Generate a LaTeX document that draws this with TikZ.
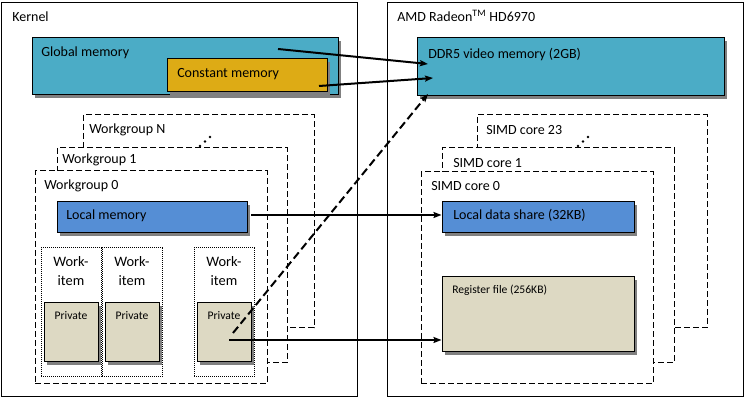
\documentclass[tikz,border=0pt]{standalone}
\usepackage{fontspec}
\setmainfont{Carlito}
\usetikzlibrary{arrows.meta}
\usetikzlibrary{shadows, fit, positioning}
\definecolor{globalmem}{RGB}{75,172,198}
\definecolor{constmem}{RGB}{221,171,21}
\definecolor{localmem}{RGB}{85,142,213}
\definecolor{privmem}{RGB}{221,217,195}

\begin{document}
\begin{tikzpicture}[x=0.75pt, y=-0.75pt,
    box/.style={draw, line width=0.75pt, inner sep=0pt},
    mem/.style={box, drop shadow={shadow xshift=2.25pt, shadow yshift=-2.25pt, fill=black!50, opacity=1}},
    grp/.style={box, fill=white, dash pattern=on 4.5pt off 2.25pt},
    wibox/.style={draw, inner sep=0pt, line width=0.75pt, dash pattern=on 0.75pt off 0.75pt},
    txt/.style={anchor=base west, inner sep=0pt, font=\fontsize{10.5}{12.6}\selectfont},
    wilbl/.style={anchor=north, inner sep=0pt, align=center, font=\fontsize{10.8}{14.25}\selectfont},
    small/.style={anchor=base, inner sep=0pt, font=\fontsize{8.7}{10}\selectfont},
    link/.style={line width=1.5pt, -{Stealth[length=6pt, width=4.5pt, inset=1pt]}}]

    \useasboundingbox (0,0) rectangle (747,402);

    % kernel side
    \node[box, fill=white, fit={(1,3) (357,397)}] (kernel) {};
    \node[txt] (kernellbl) at (12,22) {Kernel};

    \node[mem, fill=globalmem, fit={(32,38) (338,95)}] (global) {};
    \node[txt] (globallbl) at (41,57) {Global memory};
    \node[mem, fill=constmem, fit={(167,59) (327,92)}] (const) {};
    \node[txt] (constlbl) at (177,78) {Constant memory};

    \node[grp, fit={(83,115) (314,328)}] (wgN) {};
    \node[txt] (wgNlbl) at (89,134) {Workgroup N};
    \node[grp, fit={(57,148) (287,363)}] (wg1) {};
    \node[txt] (wg1lbl) at (62,164) {Workgroup 1};
    \node[grp, fit={(35,171) (267,384)}] (wg0) {};
    \node[txt] (wg0lbl) at (44,190) {Workgroup 0};
    \foreach \p in {(200,146),(205,141.5),(210,137)}
        \fill \p circle (1pt);

    \node[mem, fill=localmem, fit={(57,202) (247,233)}] (local) {};
    \node[txt] (locallbl) at (66,220) {Local memory};

    \foreach \i/\x in {1/41, 2/102, 3/194}{
        \node[wibox, fit={(\x,248) (\x+60,377)}] (wi\i) {};
        \node[wilbl] (wi\i lbl) at (\x+30,256) {Work-\\item};
        \node[mem, fill=privmem, fit={(\x+3,303) (\x+57,362)}] (priv\i) {};
        \node[small] (priv\i lbl) at (\x+30,320) {Private};
    }

    % gpu side
    \node[box, fill=white, fit={(387,3) (743,397)}] (gpu) {};
    \node[txt] (gpulbl) at (397,22) {AMD Radeon\textsuperscript{TM} HD6970};

    \node[mem, fill=globalmem, fit={(417,38) (724,96)}] (ddr) {};
    \node[txt] (ddrlbl) at (428,59) {DDR5 video memory (2GB)};

    \node[grp, fit={(477,115) (707,328)}] (simd23) {};
    \node[txt] (simd23lbl) at (486,135) {SIMD core 23};
    \node[grp, fit={(442,148) (674,363)}] (simd1) {};
    \node[txt] (simd1lbl) at (453,168) {SIMD core 1};
    \node[grp, fit={(421,172) (653,384)}] (simd0) {};
    \node[txt] (simd0lbl) at (431,191) {SIMD core 0};
    \foreach \p in {(578,146),(583,141.5),(588,137)}
        \fill \p circle (1pt);

    \node[mem, fill=localmem, fit={(442,202) (634,233)}] (lds) {};
    \node[txt] (ldslbl) at (453,220) {Local data share (32KB)};
    \node[mem, fill=privmem, fit={(442,277) (634,352)}] (regfile) {};
    \node[small, anchor=base west] (regfilelbl) at (452,294) {Register file (256KB)};

    % links
    \coordinate (gsrc) at (278,49);
    \coordinate (gdst) at (428,64);
    \coordinate (csrc) at (319,86);
    \coordinate (cdst) at (433,78);
    \coordinate (psrc) at (233,333);
    \coordinate (pdst) at (428,94);
    \coordinate (lsrc) at (251,215);
    \coordinate (rsrc) at (229,340);

    \draw[link] (gsrc) -- (gdst);
    \draw[link] (csrc) -- (cdst);
    \draw[link, dash pattern=on 6pt off 3pt] (psrc) -- (pdst);
    \draw[link] (lsrc) -- (lsrc -| lds.west);
    \draw[link] (rsrc) -- (rsrc -| regfile.west);

\end{tikzpicture}
\end{document}
